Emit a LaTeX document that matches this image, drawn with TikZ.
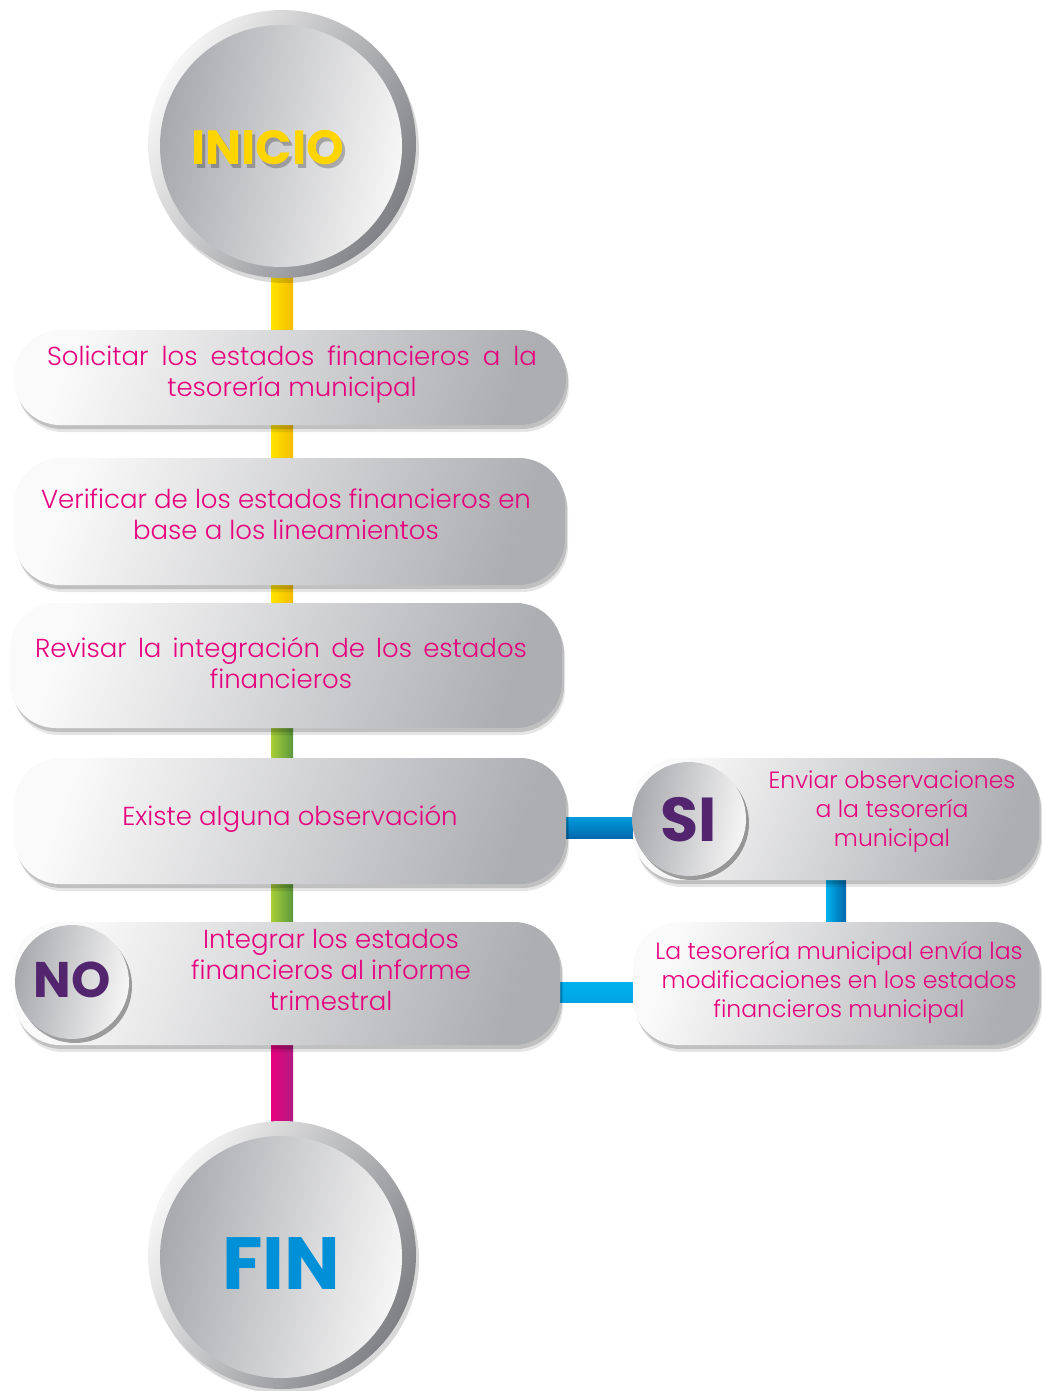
\documentclass[tikz,border=0pt]{standalone}
\usepackage{fontspec}
\setmainfont{Poppins}
\newfontfamily\stepfont{Poppins Light}
\usetikzlibrary{shadows,calc,backgrounds}

\definecolor{pinktext}{HTML}{E6007E}
\definecolor{boxlight}{HTML}{FAFAFA}
\definecolor{boxdark}{HTML}{ADAEB2}
\definecolor{ringlight}{HTML}{F6F6F6}
\definecolor{ringdark}{HTML}{808185}
\definecolor{disclight}{HTML}{F6F6F6}
\definecolor{discdark}{HTML}{A8A9AD}
\definecolor{yellowA}{HTML}{FFE400}
\definecolor{yellowB}{HTML}{F5BA00}
\definecolor{greenA}{HTML}{A8CE38}
\definecolor{greenB}{HTML}{5A983C}
\definecolor{magentaA}{HTML}{E8007F}
\definecolor{magentaB}{HTML}{B11C80}
\definecolor{blueA}{HTML}{009CDE}
\definecolor{blueB}{HTML}{0068AC}
\definecolor{cyanA}{HTML}{00B2EE}
\definecolor{cyanB}{HTML}{00A2E4}
\definecolor{purpletext}{HTML}{52256E}
\definecolor{inicioyellow}{HTML}{FFD500}
\definecolor{finblue}{HTML}{0090D8}

\begin{document}
\begin{tikzpicture}[x=1pt,y=-1pt,
  pill/.style={rectangle, rounded corners=46pt, inner sep=0pt,
    left color=boxlight, right color=boxdark, shading angle=70,
    drop shadow={shadow xshift=3pt, shadow yshift=-7pt, opacity=.10, fill=black},
    drop shadow={shadow xshift=2pt, shadow yshift=-4pt, opacity=.16, fill=black}},
  steptext/.style={text=pinktext, font=\stepfont\fontsize{26}{31}\selectfont, align=center, inner sep=0pt},
  sidetext/.style={steptext, font=\stepfont\fontsize{23.5}{29}\selectfont},
  bigdisc/.style={circle, inner sep=0pt, minimum size=268pt,
    left color=ringlight, right color=ringdark, shading angle=60,
    drop shadow={shadow xshift=3pt, shadow yshift=-5pt, opacity=.15, fill=black}},
  innerdisc/.style={left color=discdark, right color=disclight, shading angle=80},
  smalldisc/.style={circle, inner sep=0pt, minimum size=114pt,
    left color=discdark, right color=disclight, shading angle=80,
    drop shadow={shadow xshift=3pt, shadow yshift=-4pt, opacity=.35, fill=black}},
  headtext/.style={font=\bfseries\fontsize{#1}{#1}\selectfont, inner sep=0pt},
]
\useasboundingbox (0,0) rectangle (1041,1391);

% start and end discs
\node[bigdisc] (inicio) at (282,144) {};
\path[innerdisc] ($(inicio.center)+(-1,2)$) circle[radius=121pt];
\node[headtext=48, text=black, opacity=.25] at (271,152) {INICIO};
\node[headtext=48, text=inicioyellow] (iniciotxt) at (268,148) {INICIO};

\node[bigdisc] (fin) at (282,1255) {};
\path[innerdisc] ($(fin.center)+(-1,2)$) circle[radius=121pt];
\node[headtext=74, text=finblue] (fintxt) at (281,1264) {FIN};

% process steps
\node[pill, minimum width=552pt, minimum height=95pt] (s1) at (290,377.5) {};
\node[steptext] (t1) at (292,375) {\makebox[490pt][s]{Solicitar los estados financieros a la}\\tesorería municipal};

\node[pill, minimum width=551pt, minimum height=127pt] (s2) at (289.5,521.5) {};
\node[steptext] (t2) at (286,514) {Verificar de los estados financieros en\\base a los lineamientos};

\node[pill, minimum width=552pt, minimum height=125pt] (s3) at (286,665.5) {};
\node[steptext] (t3) at (281,663) {\makebox[492pt][s]{Revisar la integración de los estados}\\financieros};

\node[pill, minimum width=552pt, minimum height=126pt] (s4) at (290,821) {};
\node[steptext] (t4) at (290,819) {Existe alguna observación};

\node[pill, minimum width=546pt, minimum height=123pt] (s5) at (287,983.5) {};
\node[steptext] (t5) at (331,970) {Integrar los estados\\financieros al informe\\trimestral};
\node[smalldisc] (no) at (72,982) {};
\node[headtext=50, text=purpletext] (notxt) at (72,980) {NO};

\node[pill, minimum width=406pt, minimum height=122pt] (r1) at (836,819) {};
\node[sidetext] (tr1) at (892,812) {Enviar observaciones\\a la tesorería\\municipal};
\node[smalldisc] (si) at (689,819) {};
\node[headtext=62, text=purpletext] (sitxt) at (689,820) {SI};

\node[pill, minimum width=406pt, minimum height=123pt] (r2) at (836,983.5) {};
\node[sidetext] (tr2) at (839,982) {La tesorería municipal envía las\\modificaciones en los estados\\financieros municipal};

% connectors behind the steps
\begin{scope}[on background layer]
  \path[left color=yellowA, right color=yellowB]
    ($(inicio.south)+(-11,-2)$) rectangle ($(inicio.south |- s3.north)+(11,2)$);
  \path[left color=greenA, right color=greenB]
    ($(inicio.south |- s3.south)+(-11,-2)$) rectangle ($(inicio.south |- s5.north)+(11,2)$);
  \path[left color=magentaA, right color=magentaB]
    ($(inicio.south |- s5.south)+(-11,-2)$) rectangle ($(fin.north)+(11,2)$);
  \path[top color=blueA, bottom color=blueB]
    ($(s4.east)+(-4,-4)$) rectangle ($(si.west |- s4.east)+(4,17)$);
  \path[left color=cyanA, right color=blueB]
    ($(r1.south)+(-10,-2)$) rectangle ($(r1.south |- r2.north)+(10,2)$);
  \path[top color=cyanA, bottom color=cyanB]
    ($(s5.east)+(-4,-1)$) rectangle ($(r2.west |- s5.east)+(4,19)$);
\end{scope}
\end{tikzpicture}
\end{document}
